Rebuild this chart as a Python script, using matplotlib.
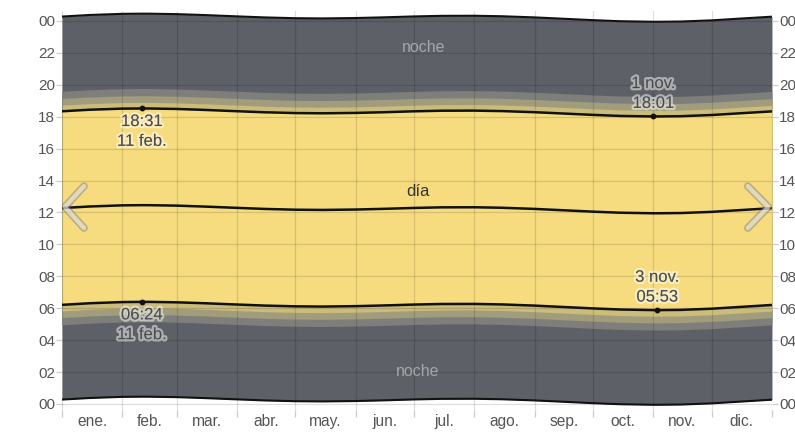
import matplotlib
matplotlib.use("Agg")
import matplotlib.pyplot as plt
import matplotlib.patheffects as pe
import numpy as np

plt.rcParams['font.family'] = ['Liberation Sans', 'DejaVu Sans']

# Day of year (0 = 1 Jan) for each sample
days = [0, 14, 31, 41, 45, 59, 73, 90, 104, 120, 134, 151, 165, 181, 195,
        212, 226, 243, 257, 273, 287, 304, 306, 318, 334, 348, 365]
# Sunrise and sunset, decimal hours
sunrise = [6.212, 6.312, 6.387, 6.400, 6.399, 6.371, 6.315, 6.233, 6.168,
           6.119, 6.105, 6.131, 6.173, 6.230, 6.267, 6.271, 6.240, 6.165,
           6.083, 5.989, 5.920, 5.884, 5.883, 5.897, 5.971, 6.077, 6.205]
sunset = [18.342, 18.438, 18.507, 18.517, 18.515, 18.487, 18.429, 18.345,
          18.280, 18.229, 18.215, 18.239, 18.281, 18.340, 18.377, 18.383,
          18.354, 18.283, 18.205, 18.115, 18.050, 18.017, 18.018, 18.033,
          18.107, 18.211, 18.335]

# Twilight limits after sunset / before sunrise (hours): civil, nautical, astronomical
twilight = [0.38, 0.80, 1.25]
twilight_colors = ['#cbbc7a', '#a19d7c', '#7e7f7a']

month_starts = [0, 31, 59, 90, 120, 151, 181, 212, 243, 273, 304, 334, 365]
month_labels = ['ene.', 'feb.', 'mar.', 'abr.', 'may.', 'jun.', 'jul.',
                'ago.', 'sep.', 'oct.', 'nov.', 'dic.']
hour_ticks = list(range(0, 25, 2))
hour_labels = ['%02d' % (h % 24) for h in hour_ticks]

# Highlighted extremes: (day, hours, label lines, placement)
extremes = [
    (41, 18.517, '18:31\n11 feb.', 'below'),
    (41, 6.400, '06:24\n11 feb.', 'below'),
    (304, 18.017, '1 nov.\n18:01', 'above'),
    (306, 5.883, '3 nov.\n05:53', 'above'),
]

d = np.array(days, dtype=float)
rise = np.array(sunrise)
sset = np.array(sunset)
noon = (rise + sset) / 2.0
top_edge = noon + 12.0
bottom_edge = noon - 12.0

night = '#5d6066'
day_color = '#f6dc7e'

fig = plt.figure(figsize=(7.95, 4.32), dpi=100)
ax = fig.add_axes([0.078, 0.0519, 0.893, 0.9217])

ax.fill_between(d, bottom_edge, top_edge, color=night, lw=0, zorder=1)
for tw, col in zip(twilight[::-1], twilight_colors[::-1]):
    ax.fill_between(d, rise - tw, sset + tw, color=col, lw=0, zorder=1)
ax.fill_between(d, rise, sset, color=day_color, lw=0, zorder=1)

# grid
for m in month_starts:
    ax.axvline(m, color='black', alpha=0.13, lw=0.9, zorder=2)
for h in hour_ticks:
    ax.axhline(h, color='black', alpha=0.13, lw=0.9, zorder=2)

# lines
for y in (rise, sset, noon):
    ax.plot(d, y, color='#111111', lw=1.8, zorder=3, solid_capstyle='butt')
for y in (top_edge, bottom_edge):
    ax.plot(d, y, color='#111111', lw=1.5, zorder=3, solid_capstyle='butt')

halo = [pe.withStroke(linewidth=3.2, foreground=(1, 1, 1, 0.5))]
for xd, yh, txt, where in extremes:
    ax.plot([xd], [yh], 'o', color='#111111', ms=3.2, zorder=4)
    if where == 'below':
        ax.annotate(txt, (xd, yh), xytext=(0, -4), textcoords='offset points',
                    ha='center', va='top', fontsize=12, color='#4a4a4a',
                    linespacing=1.4, path_effects=halo, zorder=5)
    else:
        ax.annotate(txt, (xd, yh), xytext=(0, 4), textcoords='offset points',
                    ha='center', va='bottom', fontsize=12, color='#4a4a4a',
                    linespacing=1.4, path_effects=halo, zorder=5)

ax.text(183, 13.3, 'día', ha='center', va='center', fontsize=12,
        color='#333333', zorder=5)
ax.text(186, 22.35, 'noche', ha='center', va='center', fontsize=11.5,
        color='#a4a6aa', zorder=5)
ax.text(183, 2.05, 'noche', ha='center', va='center', fontsize=11.5,
        color='#a4a6aa', zorder=5)

# navigation chevrons
chev_kw = dict(color=(1, 1, 1, 0.55), lw=3.2, solid_capstyle='round',
               solid_joinstyle='round', transform=ax.transAxes, zorder=6,
               path_effects=[pe.Stroke(linewidth=5.5, foreground=(0.45, 0.45, 0.45, 0.45)),
                             pe.Normal()])
ax.plot([0.031, 0.004, 0.031], [0.561, 0.509, 0.456], **chev_kw)
ax.plot([0.966, 0.995, 0.966], [0.561, 0.509, 0.456], **chev_kw)

ax.set_xlim(0, 365)
ax.set_ylim(-0.35, 24.6)

ax.set_xticks(month_starts)
ax.set_xticklabels([])
ax.set_xticks([(a + b) / 2 for a, b in zip(month_starts[:-1], month_starts[1:])],
              minor=True)
ax.set_xticklabels(month_labels, minor=True)
ax.tick_params(axis='x', which='major', length=5, color='#cccccc', width=0.9)
ax.tick_params(axis='x', which='minor', length=0, labelsize=11.2,
               labelcolor='#555555', pad=3)

ax.set_yticks(hour_ticks)
ax.set_yticklabels(hour_labels)
ax.tick_params(axis='y', length=4, color='#cccccc', width=0.9, labelsize=11,
               labelcolor='#555555', labelright=True, right=True, pad=1)

for s in ax.spines.values():
    s.set_visible(False)

fig.savefig('out.png', dpi=100, facecolor='white')
